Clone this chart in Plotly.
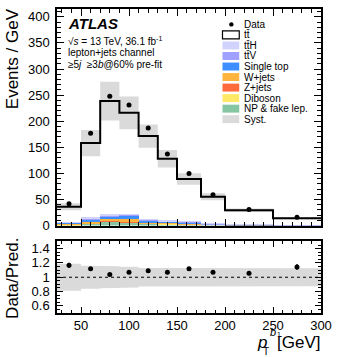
import plotly.graph_objects as go
import numpy as np

# ---------------- data ----------------
bin_edges = [25, 50, 70, 90, 110, 130, 150, 175, 200, 250, 300]
data_vals = [42, 177, 248, 231, 187, 137, 100, 59, 31, 16]
data_err = [1.3, 3.0, 3.5, 3.4, 3.1, 2.6, 2.0, 1.5, 0.8, 0.6]
pred_total = [36.0, 158.0, 238.5, 216.0, 171.6, 128.0, 89.3, 55.1, 29.4, 14.0]
syst_rel = [0.19, 0.16, 0.155, 0.145, 0.13, 0.13, 0.125, 0.12, 0.12, 0.125]

# backgrounds (stack, bottom to top)
np_fake = [1.0, 4.0, 7.0, 6.5, 4.0, 3.0, 2.5, 1.2, 0.5, 0.2]
diboson = [0.1, 0.2, 0.3, 0.3, 0.2, 0.15, 0.1, 0.05, 0.03, 0.02]
zjets = [0.3, 0.5, 0.6, 0.6, 0.4, 0.3, 0.2, 0.1, 0.05, 0.03]
wjets = [2.6, 2.0, 4.0, 5.0, 2.0, 1.5, 1.2, 0.6, 0.3, 0.15]
single_top = [1.0, 4.5, 6.0, 6.0, 3.5, 2.5, 2.5, 1.0, 0.4, 0.2]
ttv = [0.5, 2.0, 2.0, 2.0, 1.0, 0.8, 0.8, 0.3, 0.12, 0.05]
tth = [0.5, 1.8, 2.1, 1.6, 0.9, 0.75, 0.7, 0.25, 0.1, 0.05]

x_ticks = [50, 100, 150, 200, 250, 300]
y_ticks = [0, 50, 100, 150, 200, 250, 300, 350, 400]
r_ticks = [0.6, 0.8, 1.0, 1.2, 1.4]
r_ticklabels = ["0.6", "0.8", "1", "1.2", "1.4"]

legend_labels = ["Data", "tt\u0304", "tt\u0304H", "tt\u0304V",
                 "Single top", "W+jets", "Z+jets", "Diboson", "NP & fake lep.", "Syst."]

# ---------------- styles ----------------
FONT = "Liberation Sans, Arial, Helvetica, sans-serif"
C_SYST = "#dadada"
stack_defs = [
    (np_fake, "#84c7a2"),
    (diboson, "#ffe866"),
    (zjets, "#ff6b3d"),
    (wjets, "#ffb43d"),
    (single_top, "#3d8fff"),
    (ttv, "#a0a0ff"),
    (tth, "#d2d2ff"),
]
legend_colors = [None, "white", "#d2d2ff", "#a0a0ff", "#3d8fff", "#ffb43d",
                 "#ff6b3d", "#ffe866", "#84c7a2", C_SYST]

# geometry (pixels)
L, R, T, B = 57, 14, 7, 44
W, H = 339, 357
PW, PH = W - L - R, H - T - B


def pp(xp, yp):
    return (xp - L) / PW, (H - B - yp) / PH


edges = np.array(bin_edges, dtype=float)
centers = 0.5 * (edges[:-1] + edges[1:])
widths = np.diff(edges)
pred = np.array(pred_total)
srel = np.array(syst_rel)
dat = np.array(data_vals, dtype=float)
derr = np.array(data_err)

fig = go.Figure()


def band_poly(lo, hi):
    xs, ys = [], []
    for i in range(len(lo)):
        xs += [edges[i], edges[i + 1]]
        ys += [hi[i], hi[i]]
    for i in reversed(range(len(lo))):
        xs += [edges[i + 1], edges[i]]
        ys += [lo[i], lo[i]]
    return xs, ys


# syst band main
bx, by = band_poly(pred * (1 - srel), pred * (1 + srel))
fig.add_trace(go.Scatter(x=bx, y=by, fill="toself", fillcolor=C_SYST, line=dict(width=0),
                         mode="lines", xaxis="x", yaxis="y", hoverinfo="skip", showlegend=False))

# stacked backgrounds
for vals, col in stack_defs:
    fig.add_trace(go.Bar(x=centers, y=vals, width=widths, marker=dict(color=col, line=dict(width=0)),
                         xaxis="x", yaxis="y", showlegend=False))

# total prediction step line
fig.add_trace(go.Scatter(x=list(edges), y=list(pred) + [pred[-1]], mode="lines",
                         line=dict(color="black", width=2, shape="hv"),
                         xaxis="x", yaxis="y", showlegend=False))

# data
fig.add_trace(go.Scatter(x=centers, y=dat, mode="markers",
                         marker=dict(color="black", size=5),
                         error_y=dict(type="data", array=derr, color="black", thickness=1.2, width=0),
                         xaxis="x", yaxis="y", showlegend=False))

# ratio band
rbx, rby = band_poly(1 - srel, 1 + srel)
fig.add_trace(go.Scatter(x=rbx, y=rby, fill="toself", fillcolor=C_SYST, line=dict(width=0),
                         mode="lines", xaxis="x2", yaxis="y2", hoverinfo="skip", showlegend=False))

ratio = dat / pred
ratio_err = derr / pred
fig.add_trace(go.Scatter(x=centers, y=ratio, mode="markers",
                         marker=dict(color="black", size=5),
                         error_y=dict(type="data", array=ratio_err, color="black", thickness=1.2, width=0),
                         xaxis="x2", yaxis="y2", showlegend=False))

main_bottom = (H - B - 225) / PH
ratio_top = (H - B - 241) / PH

axis_common = dict(showline=True, linecolor="black", linewidth=1.5, mirror="allticks",
                   ticks="inside", tickcolor="black", showgrid=False, zeroline=False,
                   tickfont=dict(family=FONT, size=13, color="black"))

fig.update_layout(
    width=W, height=H,
    margin=dict(l=L, r=R, t=T, b=B, pad=0),
    paper_bgcolor="white", plot_bgcolor="white",
    barmode="stack", bargap=0,
    showlegend=False,
    font=dict(family=FONT, color="black"),
    xaxis=dict(domain=[0, 1], range=[25, 300], anchor="y", tickvals=x_ticks, showticklabels=False,
               ticklen=7, minor=dict(dtick=10, tick0=0, ticklen=4, ticks="inside", tickcolor="black"),
               **axis_common),
    yaxis=dict(domain=[main_bottom, 1], range=[0, 415], anchor="x", tickvals=y_ticks,
               ticklen=7, minor=dict(dtick=10, tick0=0, ticklen=4, ticks="inside", tickcolor="black"),
               ticklabelstandoff=3, **axis_common),
    xaxis2=dict(domain=[0, 1], range=[25, 300], anchor="y2", tickvals=x_ticks,
                ticklen=6, minor=dict(dtick=10, tick0=0, ticklen=3, ticks="inside", tickcolor="black"),
                **axis_common),
    yaxis2=dict(domain=[0, ratio_top], range=[0.5, 1.5], anchor="x2", tickvals=r_ticks,
                ticktext=r_ticklabels, ticklen=6,
                minor=dict(dtick=0.05, tick0=0.5, ticklen=3, ticks="inside", tickcolor="black"),
                ticklabelstandoff=3, **axis_common),
)

# dotted line at 1 in ratio
fig.add_shape(type="line", xref="x2 domain", yref="y2", x0=0, x1=1, y0=1, y1=1,
              line=dict(color="black", width=1.2, dash="dot"))

ann = []


def add_text(text, xp, yp, size, xanchor="left", yanchor="middle", angle=0):
    x, y = pp(xp, yp)
    ann.append(dict(text=text, x=x, y=y, xref="paper", yref="paper", showarrow=False,
                    xanchor=xanchor, yanchor=yanchor, textangle=angle,
                    font=dict(family=FONT, size=size, color="black")))


# axis titles
add_text("Events / GeV", 12, 4, 17, xanchor="center", yanchor="top", angle=-90)
add_text("Data/Pred.", 12, 278, 17, xanchor="center", yanchor="middle", angle=-90)
add_text("[GeV]", 326, 343, 17, xanchor="right")
add_text("<i>p</i>", 272, 343, 17, xanchor="right")
add_text("<i>b</i>", 271, 332, 11, xanchor="left")
add_text("1", 278, 335, 7, xanchor="left")
add_text("T", 269, 352, 10, xanchor="center")

# labels
add_text("<b><i>ATLAS</i></b>", 66, 22, 15)
add_text("\u221a<i>s</i> = 13 TeV, 36.1 fb<sup>-1</sup>", 66, 39, 10)
add_text("lepton+jets channel", 66, 51, 10)
add_text("\u22655<i>j</i>  \u22653<i>b</i>@60% pre-fit", 66, 63, 10)

# manual legend
row0, step = 22.5, 10.6
for i, (lab, col) in enumerate(zip(legend_labels, legend_colors)):
    yc = row0 + i * step
    add_text(lab, 245, yc, 10)
    if i == 0:
        x, y = pp(234, yc)
        fig.add_shape(type="circle", xref="paper", yref="paper",
                      x0=x - 2.2 / PW, x1=x + 2.2 / PW, y0=y - 2.2 / PH, y1=y + 2.2 / PH,
                      fillcolor="black", line=dict(width=0))
    else:
        x0, y0 = pp(225, yc + 4)
        x1, y1 = pp(242, yc - 4)
        fig.add_shape(type="rect", xref="paper", yref="paper", x0=x0, x1=x1, y0=y0, y1=y1,
                      fillcolor=col,
                      line=dict(width=1.2 if i == 1 else 0, color="black"))

fig.update_layout(annotations=ann)
fig.write_html("out.html")
